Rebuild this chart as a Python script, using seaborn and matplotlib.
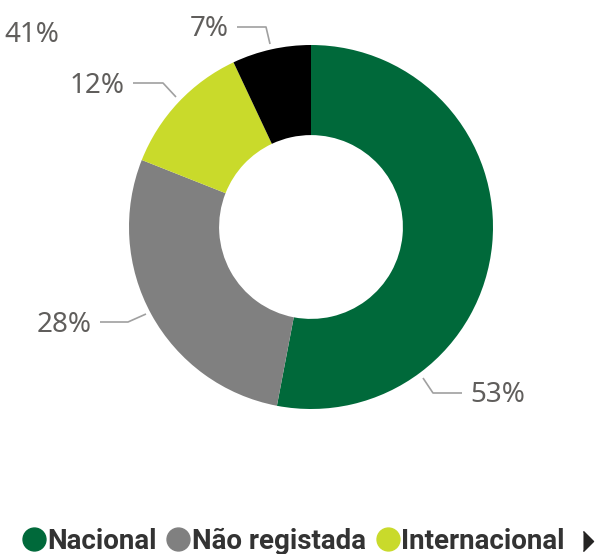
import matplotlib
matplotlib.use('Agg')
import matplotlib.pyplot as plt
from matplotlib.lines import Line2D
import seaborn as sns

# data
categories = ['Nacional', 'Não registada', 'Internacional', 'Outros']
shares = [53, 28, 12, 7]
colors = ['#00693A', '#808080', '#C9DA2B', '#000000']
legend_items = categories[:3]
stray_label = '41%'

sns.set_theme(style='white')
plt.rcParams['font.family'] = ['Noto Sans', 'DejaVu Sans']

W, H = 596, 554
CX, CY, R = 311, 227, 182


def px(x, y):
    # pixel position -> data coords of the pie axes
    return (x - CX) / R, (CY - y) / R


fig = plt.figure(figsize=(W / 100, H / 100), dpi=100)
ax = fig.add_axes([0, 0, 1, 1])
ax.pie(shares, colors=colors, startangle=90, counterclock=False, radius=1,
       wedgeprops=dict(width=0.495, edgecolor='none', linewidth=0))
ax.set_aspect('auto')
ax.set_xlim(-CX / R, (W - CX) / R)
ax.set_ylim((CY - H) / R, CY / R)
ax.axis('off')

# leader lines + label spots (layout only)
leaders = {
    'Nacional': [(423, 378), (433, 393), (462, 393)],
    'Não registada': [(146, 314), (128, 322), (100, 322)],
    'Internacional': [(176, 97), (163, 83), (133, 83)],
    'Outros': [(270, 44), (266, 27), (237, 27)],
}
label_spots = {
    'Nacional': (470, 395, 'left'),
    'Não registada': (92, 325, 'right'),
    'Internacional': (125, 86, 'right'),
    'Outros': (229, 29, 'right'),
}
lab_col = '#605E5C'
for cat, v in zip(categories, shares):
    pts = [px(*p) for p in leaders[cat]]
    ax.plot([p[0] for p in pts], [p[1] for p in pts], color='#A0A0A0', lw=1.2,
            solid_capstyle='butt')
    x, y, ha = label_spots[cat]
    ax.text(*px(x, y), f'{v}%', ha=ha, va='center', fontsize=20, color=lab_col)

ax.text(*px(4, 35), stray_label, ha='left', va='center', fontsize=20, color=lab_col)

handles = [Line2D([], [], marker='o', ls='', markersize=16.5, color=c)
           for c in colors[:3]]
leg = fig.legend(handles, legend_items, loc='center left',
                 bbox_to_anchor=(21 / W, 1 - 541 / H), ncol=3, frameon=False,
                 borderpad=0, borderaxespad=0,
                 handletextpad=0.05, columnspacing=0.32, handlelength=0.9,
                 prop=dict(family=['Roboto', 'DejaVu Sans'],
                           weight='bold', size=20))
for t in leg.get_texts():
    t.set_color('#333333')

# "more" arrow of the legend
ax.plot(*px(588, 541), marker=[(-1, -2), (1, 0), (-1, 2)], ms=14.5,
        color='#252423', ls='')

fig.savefig('out.png', dpi=100)
